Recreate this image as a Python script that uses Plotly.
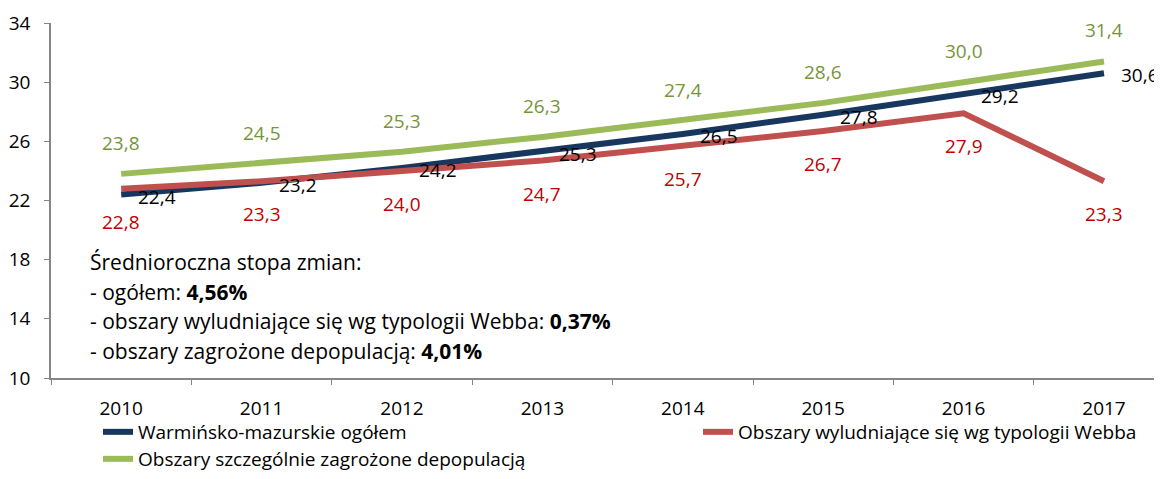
import plotly.graph_objects as go

years = ["2010", "2011", "2012", "2013", "2014", "2015", "2016", "2017"]
ogolem = [22.4, 23.2, 24.2, 25.3, 26.5, 27.8, 29.2, 30.6]
webb = [22.8, 23.3, 24.0, 24.7, 25.7, 26.7, 27.9, 23.3]
zagrozone = [23.8, 24.5, 25.3, 26.3, 27.4, 28.6, 30.0, 31.4]

names = ["Warmińsko-mazurskie ogółem",
         "Obszary wyludniające się wg typologii Webba",
         "Obszary szczególnie zagrożone depopulacją"]

note_title = "Średnioroczna stopa zmian:"
note_labels = ["- ogółem: ", "- obszary wyludniające się wg typologii Webba: ", "- obszary zagrożone depopulacją: "]
note_values = ["4,56%", "0,37%", "4,01%"]

FONT = "Open Sans"
FS = 19
NOTE_FS = 21
OFF = 8  # default page body margin
W, H = 1152, 463
# plot area in page pixels: left 51, top 23, bottom 378
L, T = 51 - OFF, 23 - OFF
B = H - (378 - OFF)
R = 0
PW, PH = W - L - R, H - T - B
SPACING = 140.4
XR = -0.5 + PW / SPACING

line_colors = ["#17375E", "#C0504D", "#9BBB59"]
label_colors = ["#000000", "#C00000", "#77933C"]

def fmt(v):
    return f"{v:.1f}".replace(".", ",")

fig = go.Figure()
series = [ogolem, webb, zagrozone]
legends = ["legend", "legend2", "legend3"]
for s, n, c, lg in zip(series, names, line_colors, legends):
    fig.add_trace(go.Scatter(x=years, y=s, mode="lines", name=n,
                             line=dict(color=c, width=6), legend=lg,
                             hoverinfo="skip"))

annotations = []
for i, v in enumerate(ogolem):
    annotations.append(dict(x=i, y=v, text=fmt(v), showarrow=False, xanchor="left",
                            xshift=15, yshift=-2, font=dict(family=FONT, size=FS, color=label_colors[0])))
for i, v in enumerate(webb):
    annotations.append(dict(x=i, y=v, text=fmt(v), showarrow=False,
                            yshift=-33, font=dict(family=FONT, size=FS, color=label_colors[1])))
for i, v in enumerate(zagrozone):
    annotations.append(dict(x=i, y=v, text=fmt(v), showarrow=False,
                            yshift=31, font=dict(family=FONT, size=FS, color=label_colors[2])))

def py2paper(py):  # page pixel -> paper
    return (H - B - (py - OFF)) / PH

def px2paper(px):
    return (px - OFF - L) / PW

note_lines = [note_title] + [a + "<b>" + b + "</b>" for a, b in zip(note_labels, note_values)]
for i, t in enumerate(note_lines):
    annotations.append(dict(xref="paper", yref="paper", x=px2paper(88), y=py2paper(262 + i * 29.5),
                            text=t, showarrow=False, xanchor="left", yanchor="middle",
                            font=dict(family=FONT, size=NOTE_FS, color="#000000")))

def leg(px, py):
    return dict(xref="container", yref="container", x=(px - OFF) / W, y=1 - (py - OFF) / H,
                xanchor="left", yanchor="middle", orientation="h",
                font=dict(family=FONT, size=FS, color="#000000"), bgcolor="rgba(0,0,0,0)")

fig.update_layout(
    width=W, height=H,
    margin=dict(l=L, r=R, t=T, b=B, pad=0, autoexpand=False),
    plot_bgcolor="white", paper_bgcolor="white",
    font=dict(family=FONT, size=FS, color="#000000"),
    annotations=annotations,
    xaxis=dict(type="category", range=[-0.5, XR], tickson="boundaries",
               ticks="outside", ticklen=5, tickcolor="#868686",
               showline=True, linecolor="#868686", linewidth=1.5,
               showgrid=False, zeroline=False, ticklabelstandoff=12,
               tickfont=dict(family=FONT, size=FS, color="#000000")),
    yaxis=dict(range=[10, 34], tick0=10, dtick=4, ticks="outside", ticklen=5,
               tickcolor="#868686", showline=True, linecolor="#868686", linewidth=1.5,
               showgrid=False, zeroline=False, ticklabelstandoff=10,
               tickfont=dict(family=FONT, size=FS, color="#000000")),
    legend=leg(98, 432),
    legend2=leg(698, 432),
    legend3=leg(98, 459),
    showlegend=True,
)

fig.write_html("out.html")
